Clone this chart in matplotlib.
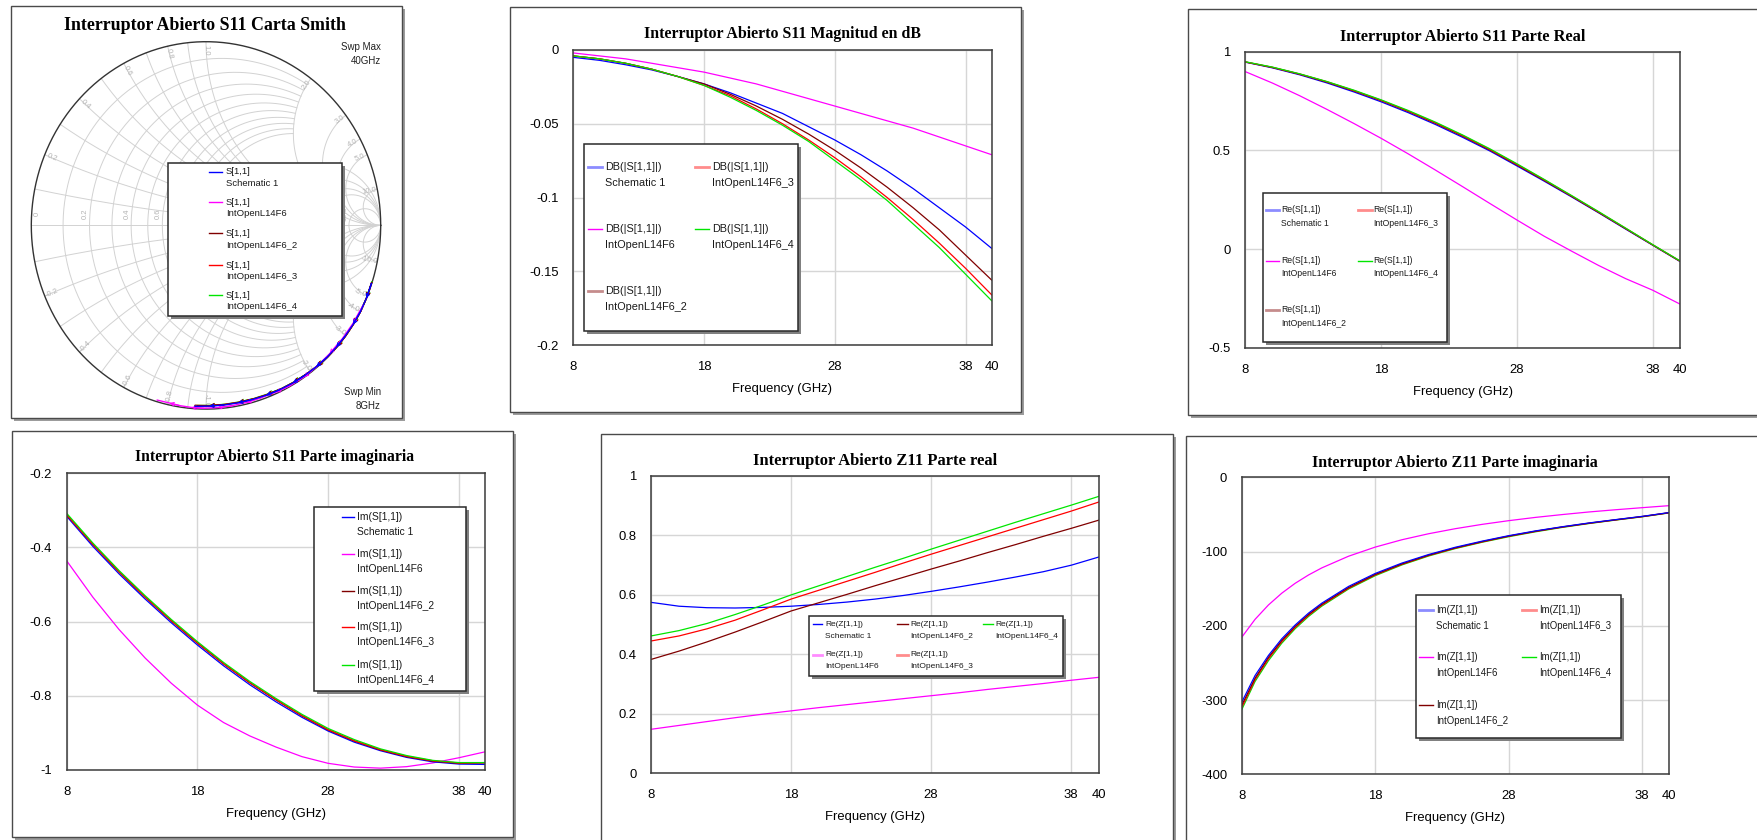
import matplotlib
matplotlib.use("Agg")
import numpy as np
import matplotlib.pyplot as plt
from matplotlib.patches import Rectangle
from matplotlib.lines import Line2D

# ---------------------------------------------------------------- data
freq = [8, 10, 12, 14, 16, 18, 20, 22, 24, 26, 28, 30, 32, 34, 36, 38, 40]
freq_z = [8, 9, 10, 11, 12, 13, 14, 16, 18, 20, 22, 24, 26, 28, 30, 32, 34, 36, 38, 40]

series_names = ["Schematic 1", "IntOpenL14F6", "IntOpenL14F6_2",
                "IntOpenL14F6_3", "IntOpenL14F6_4"]
series_colors = ["#0000ff", "#ff00ff", "#800000", "#ff0000", "#00e600"]

freq_ticks = [8, 18, 28, 38, 40]
freq_tick_labels = ["8", "18", "28", "38", "40"]

# |S11| in dB
db_sch = [-0.005, -0.007, -0.010, -0.0135, -0.018, -0.023, -0.029, -0.036, -0.043,
          -0.052, -0.061, -0.071, -0.082, -0.094, -0.107, -0.120, -0.1345]
db_l14 = [-0.002, -0.004, -0.006, -0.009, -0.012, -0.015, -0.019, -0.023, -0.028,
          -0.033, -0.038, -0.043, -0.048, -0.053, -0.059, -0.065, -0.071]
db_l14_2 = [-0.004, -0.006, -0.009, -0.013, -0.018, -0.023, -0.030, -0.038, -0.047,
            -0.057, -0.068, -0.080, -0.093, -0.107, -0.122, -0.139, -0.156]
db_l14_3 = [-0.004, -0.006, -0.009, -0.013, -0.018, -0.024, -0.031, -0.040, -0.050,
            -0.061, -0.073, -0.086, -0.100, -0.115, -0.131, -0.148, -0.166]
db_l14_4 = [-0.004, -0.006, -0.009, -0.013, -0.018, -0.024, -0.032, -0.041, -0.051,
            -0.062, -0.075, -0.088, -0.102, -0.118, -0.134, -0.152, -0.170]

# Re(S11)
re_sch = [0.947, 0.918, 0.883, 0.842, 0.796, 0.746, 0.691, 0.631, 0.566,
          0.497, 0.421, 0.344, 0.265, 0.184, 0.101, 0.019, -0.063]
re_l14 = [0.899, 0.841, 0.777, 0.708, 0.636, 0.561, 0.482, 0.400, 0.316,
          0.231, 0.147, 0.065, -0.010, -0.083, -0.150, -0.209, -0.279]
re_l14_2 = [0.948, 0.920, 0.886, 0.846, 0.801, 0.752, 0.697, 0.637, 0.572,
            0.502, 0.426, 0.348, 0.268, 0.186, 0.103, 0.020, -0.062]
re_l14_3 = [0.948, 0.921, 0.887, 0.848, 0.803, 0.754, 0.699, 0.640, 0.575,
            0.505, 0.429, 0.351, 0.270, 0.188, 0.105, 0.021, -0.061]
re_l14_4 = [0.949, 0.922, 0.888, 0.849, 0.805, 0.756, 0.702, 0.643, 0.578,
            0.508, 0.432, 0.353, 0.272, 0.190, 0.106, 0.022, -0.060]

# Im(S11)
im_sch = [-0.316, -0.397, -0.471, -0.539, -0.603, -0.663, -0.719, -0.770, -0.816,
          -0.858, -0.895, -0.925, -0.948, -0.966, -0.978, -0.984, -0.985]
im_l14 = [-0.436, -0.534, -0.621, -0.698, -0.766, -0.825, -0.872, -0.908, -0.938,
          -0.964, -0.982, -0.992, -0.995, -0.991, -0.981, -0.967, -0.951]
im_l14_2 = [-0.312, -0.392, -0.466, -0.534, -0.598, -0.658, -0.714, -0.765, -0.811,
            -0.854, -0.892, -0.922, -0.946, -0.964, -0.976, -0.982, -0.981]
im_l14_3 = [-0.312, -0.391, -0.465, -0.533, -0.597, -0.657, -0.713, -0.764, -0.810,
            -0.853, -0.891, -0.921, -0.945, -0.963, -0.975, -0.981, -0.980]
im_l14_4 = [-0.308, -0.388, -0.462, -0.530, -0.594, -0.654, -0.710, -0.761, -0.807,
            -0.850, -0.888, -0.918, -0.943, -0.961, -0.974, -0.980, -0.980]

# Re(Z11)
rz_sch = [0.575, 0.562, 0.557, 0.556, 0.558, 0.562, 0.568, 0.576, 0.586,
          0.598, 0.612, 0.627, 0.643, 0.660, 0.678, 0.700, 0.728]
rz_l14 = [0.148, 0.161, 0.174, 0.187, 0.199, 0.210, 0.221, 0.231, 0.241,
          0.251, 0.261, 0.271, 0.282, 0.292, 0.302, 0.313, 0.323]
rz_l14_2 = [0.383, 0.411, 0.442, 0.475, 0.510, 0.546, 0.574, 0.602, 0.631,
            0.659, 0.687, 0.714, 0.742, 0.769, 0.797, 0.824, 0.852]
rz_l14_3 = [0.445, 0.462, 0.486, 0.515, 0.550, 0.586, 0.616, 0.646, 0.676,
            0.707, 0.737, 0.766, 0.795, 0.824, 0.853, 0.882, 0.913]
rz_l14_4 = [0.462, 0.480, 0.504, 0.534, 0.566, 0.600, 0.631, 0.662, 0.693,
            0.723, 0.754, 0.784, 0.814, 0.844, 0.873, 0.902, 0.932]

# Im(Z11), sampled on freq_z
xz_sch = [-303, -267, -240, -217.5, -199, -183, -169.5, -147, -129.5, -115.5,
          -104, -94.2, -86, -78.6, -72.2, -66.6, -61.5, -57, -52.6, -47.5]
xz_l14 = [-215.5, -191.3, -172.0, -156.1, -142.8, -131.6, -122.0, -106.3, -94.0, -84.1,
          -76.0, -69.2, -63.4, -58.4, -54.0, -50.2, -46.7, -43.7, -40.9, -38.2]
xz_l14_2 = [-307, -270.5, -242.5, -219.8, -200.8, -184.8, -171, -148.5, -130.8, -116.6,
            -104.8, -95, -86.6, -79.1, -72.6, -66.9, -61.8, -57.2, -52.8, -47.7]
xz_l14_3 = [-310, -272.5, -244.5, -221.5, -202.3, -186, -172.2, -149.5, -131.5, -117.2,
            -105.3, -95.4, -87, -79.4, -72.9, -67.1, -62, -57.4, -53.0, -47.8]
xz_l14_4 = [-313, -275, -247, -223.5, -204, -187.5, -173.5, -150.5, -132.5, -118,
            -106, -96, -87.5, -80, -73.4, -67.5, -62.3, -57.6, -53.2, -48.0]

db_all = [db_sch, db_l14, db_l14_2, db_l14_3, db_l14_4]
re_all = [re_sch, re_l14, re_l14_2, re_l14_3, re_l14_4]
im_all = [im_sch, im_l14, im_l14_2, im_l14_3, im_l14_4]
rz_all = [rz_sch, rz_l14, rz_l14_2, rz_l14_3, rz_l14_4]
xz_all = [xz_sch, xz_l14, xz_l14_2, xz_l14_3, xz_l14_4]

# Smith grid labels
reactance_labels = [0.2, 0.4, 0.6, 0.8, 1.0, 2.0, 3.0, 4.0, 5.0, 10.0]
resistance_labels = [0.0, 0.2, 0.4, 0.6, 10.0]

# ---------------------------------------------------------------- figure
W, H = 1758, 840
plt.rcParams["font.family"] = ["Liberation Sans", "DejaVu Sans"]
fig = plt.figure(figsize=(W / 100, H / 100), dpi=100)
fig.patch.set_facecolor("white")

SERIF = ["Liberation Serif", "DejaVu Serif"]
TICK_FS = 9.4


def fx(x):
    return x / W


def fy(y):
    return 1 - y / H


def axes_px(x0, y0, x1, y1):
    return fig.add_axes([fx(x0), fy(y1), (x1 - x0) / W, (y1 - y0) / H])


def window(x0, y0, x1, y1):
    """Graph window: white pane with a thin border and a grey drop shadow."""
    fig.add_artist(Rectangle((fx(x0 + 3), fy(y1 + 3)), (x1 - x0) / W, (y1 - y0) / H,
                             transform=fig.transFigure, facecolor="#9c9c9c",
                             edgecolor="none", zorder=-10))
    fig.add_artist(Rectangle((fx(x0), fy(y1)), (x1 - x0) / W, (y1 - y0) / H,
                             transform=fig.transFigure, facecolor="white",
                             edgecolor="#4a4a4a", lw=1.0, zorder=-9))


def title(cx, cy, text, fs):
    fig.text(fx(cx), fy(cy), text, ha="center", va="center", family=SERIF,
             fontweight="bold", fontsize=fs, color="black")


def legend_box(box, cols, rows, items, head, fs, dy, faded=()):
    x0, y0, x1, y1 = box
    fig.add_artist(Rectangle((fx(x0 + 3), fy(y1 + 3)), (x1 - x0) / W, (y1 - y0) / H,
                             transform=fig.transFigure, facecolor="#808080",
                             edgecolor="none", zorder=8))
    fig.add_artist(Rectangle((fx(x0), fy(y1)), (x1 - x0) / W, (y1 - y0) / H,
                             transform=fig.transFigure, facecolor="white",
                             edgecolor="#2a2a2a", lw=1.1, zorder=9))
    for ci, ri, si in items:
        lx0, lx1, tx = cols[ci]
        ry = rows[ri]
        if si in faded:
            fig.add_artist(Line2D([fx(lx0), fx(lx1)], [fy(ry), fy(ry)],
                                  transform=fig.transFigure, color=series_colors[si],
                                  lw=2.0, alpha=0.45, zorder=10))
        else:
            fig.add_artist(Line2D([fx(lx0), fx(lx1)], [fy(ry), fy(ry)],
                                  transform=fig.transFigure, color=series_colors[si],
                                  lw=1.0, zorder=10))
        fig.text(fx(tx), fy(ry), head, ha="left", va="center", fontsize=fs,
                 color="#1a1a1a", zorder=11)
        fig.text(fx(tx), fy(ry + dy), series_names[si], ha="left", va="center",
                 fontsize=fs, color="#1a1a1a", zorder=11)


def rect_plot(box, ylim, yticks, yticklabels):
    ax = axes_px(*box)
    ax.set_xlim(8, 40)
    ax.set_ylim(*ylim)
    ax.set_xticks(freq_ticks)
    ax.set_xticklabels(freq_tick_labels)
    ax.set_yticks(yticks)
    ax.set_yticklabels(yticklabels)
    ax.grid(True, color="#d6d6d6", lw=1.0)
    ax.set_axisbelow(True)
    for s in ax.spines.values():
        s.set_color("#3c3c3c")
        s.set_linewidth(1.1)
    ax.tick_params(axis="both", length=0, labelsize=TICK_FS, colors="black")
    ax.tick_params(axis="x", pad=11.5)
    ax.tick_params(axis="y", pad=10.5)
    hpx = box[3] - box[1]
    ax.set_xlabel("Frequency (GHz)", fontsize=TICK_FS)
    ax.xaxis.label.set_va("center")
    ax.xaxis.set_label_coords(0.5, -44 / hpx)
    return ax


# ---------------------------------------------------------------- windows
window(11, 6, 402, 418)
window(510, 7, 1021, 412)
window(1188, 9, 1775, 415)
window(12, 431, 513, 837)
window(601, 434, 1173, 850)
window(1186, 436, 1775, 850)

# ---------------------------------------------------------------- Smith chart
cx, cy, rx, ry = 206.0, 225.4, 174.7, 183.7
axs = axes_px(cx - rx, cy - ry, cx + rx, cy + ry)
axs.set_xlim(-1, 1)
axs.set_ylim(-1, 1)
axs.axis("off")


def gam(z):
    return (z - 1) / (z + 1)


gkw = dict(color="#d2d2d2", lw=0.7, zorder=1)
fine_vals = [0.1, 0.2, 0.3, 0.4, 0.5, 0.6, 0.7, 0.8, 0.9, 1.0]
coarse_vals = [2.0, 3.0, 4.0, 5.0, 10.0]
for r in fine_vals:
    g = gam(r + 1j * np.linspace(-2, 2, 400))
    axs.plot(g.real, g.imag, **gkw)
t = np.linspace(0, 2 * np.pi, 500)
for r in coarse_vals:
    c, rad = r / (1 + r), 1 / (1 + r)
    axs.plot(c + rad * np.cos(t), rad * np.sin(t), **gkw)
for xv in fine_vals:
    for sgn in (1, -1):
        g = gam(np.linspace(0, 2, 400) + 1j * sgn * xv)
        axs.plot(g.real, g.imag, **gkw)
rr = np.concatenate([[0.0], np.geomspace(1e-3, 1e4, 600)])
for xv in coarse_vals:
    for sgn in (1, -1):
        g = gam(rr + 1j * sgn * xv)
        axs.plot(g.real, g.imag, **gkw)
axs.plot([-1, 1], [0, 0], **gkw)
axs.plot(np.cos(t), np.sin(t), color="#333333", lw=1.0, zorder=2, clip_on=False)

lab_kw = dict(fontsize=5.5, color="#b4b4b4", ha="center", va="center", zorder=1.5)
for xv in reactance_labels:
    for sgn in (1, -1):
        g = gam(1j * sgn * xv)
        th = np.degrees(np.angle(g))
        rot = ((th + 90) % 180) - 90
        p = 0.955 * g
        txt = ("%.1f" % xv) if sgn > 0 else ("-%.1f" % xv)
        axs.text(p.real, p.imag, txt, rotation=rot, **lab_kw)
for rv in resistance_labels:
    gx = gam(rv).real
    txt = "0" if rv == 0 else "%.1f" % rv
    axs.text(gx - 0.025 if rv > 0 else -0.965, 0.065, txt, rotation=90, **lab_kw)

# traces drawn back to front so that Schematic 1 ends up on top
for si in [4, 3, 2, 1, 0]:
    re_v, im_v = re_all[si], im_all[si]
    col = series_colors[si]
    axs.plot(re_v, im_v, color=col, lw=1.0, zorder=3, clip_on=False)
    for k in range(1, len(re_v), 2):
        axs.annotate("", xy=(re_v[k], im_v[k]), xytext=(re_v[k - 1], im_v[k - 1]),
                     arrowprops=dict(arrowstyle="->", color=col, lw=0.8,
                                     mutation_scale=6, shrinkA=0, shrinkB=0),
                     zorder=3, annotation_clip=False)

title(205, 25, "Interruptor Abierto S11 Carta Smith", 12.9)
for (yy, txt) in [(46.7, "Swp Max"), (61, "40GHz"), (391.7, "Swp Min"), (406, "8GHz")]:
    fig.text(fx(380.7), fy(yy), txt, ha="right", va="center", fontsize=7, color="#222222")
legend_box((168.3, 162.7, 342.3, 316), [(209, 222, 225.7)],
           [171.7, 202.3, 233.3, 265, 295],
           [(0, 0, 0), (0, 1, 1), (0, 2, 2), (0, 3, 3), (0, 4, 4)],
           "S[1,1]", 6.8, 11.7)

# ---------------------------------------------------------------- |S11| dB
ax2 = rect_plot((573.3, 50, 991.7, 345), (-0.2, 0),
                [0, -0.05, -0.1, -0.15, -0.2], ["0", "-0.05", "-0.1", "-0.15", "-0.2"])
for si in range(5):
    ax2.plot(freq, db_all[si], color=series_colors[si], lw=0.9)
title(782.5, 34.3, "Interruptor Abierto S11 Magnitud en dB", 11.4)
legend_box((584.3, 144.3, 798.3, 330.7),
           [(587.7, 602.3, 605), (695, 709, 711.7)], [166.7, 229, 291],
           [(0, 0, 0), (0, 1, 1), (0, 2, 2), (1, 0, 3), (1, 1, 4)],
           "DB(|S[1,1]|)", 7.8, 16, faded=(0, 2, 3))

# ---------------------------------------------------------------- Re(S11)
ax3 = rect_plot((1245.3, 51.7, 1680, 347.7), (-0.5, 1),
                [1, 0.5, 0, -0.5], ["1", "0.5", "0", "-0.5"])
for si in [1, 0, 2, 3, 4]:
    ax3.plot(freq, re_all[si], color=series_colors[si], lw=0.9)
title(1462.7, 36.7, "Interruptor Abierto S11 Parte Real", 11.75)
legend_box((1262.7, 192.7, 1447.3, 341.7),
           [(1266, 1278.7, 1281), (1357.7, 1371.7, 1373.3)], [210, 260.7, 310],
           [(0, 0, 0), (0, 1, 1), (0, 2, 2), (1, 0, 3), (1, 1, 4)],
           "Re(S[1,1])", 6.2, 13.3, faded=(0, 2, 3))

# ---------------------------------------------------------------- Im(S11)
ax4 = rect_plot((66.7, 473.3, 485, 770), (-1, -0.2),
                [-0.2, -0.4, -0.6, -0.8, -1], ["-0.2", "-0.4", "-0.6", "-0.8", "-1"])
for si in [1, 0, 2, 3, 4]:
    ax4.plot(freq, im_all[si], color=series_colors[si], lw=0.9)
title(275, 457.3, "Interruptor Abierto S11 Parte imaginaria", 11.3)
legend_box((314, 506.7, 465.7, 690.7), [(341.7, 354, 356.7)],
           [516.7, 554.3, 590.7, 627.3, 665],
           [(0, 0, 0), (0, 1, 1), (0, 2, 2), (0, 3, 3), (0, 4, 4)],
           "Im(S[1,1])", 7.4, 15)

# ---------------------------------------------------------------- Re(Z11)
ax5 = rect_plot((651, 476, 1099.3, 773.3), (0, 1),
                [1, 0.8, 0.6, 0.4, 0.2, 0], ["1", "0.8", "0.6", "0.4", "0.2", "0"])
for si in range(5):
    ax5.plot(freq, rz_all[si], color=series_colors[si], lw=0.9)
title(875.2, 461, "Interruptor Abierto Z11 Parte real", 11.9)
legend_box((809.3, 615.7, 1063.3, 675.7),
           [(812.7, 822.3, 825), (897.3, 908.3, 910), (982.7, 993.3, 995.7)],
           [624.3, 655],
           [(0, 0, 0), (0, 1, 1), (1, 0, 2), (1, 1, 3), (2, 0, 4)],
           "Re(Z[1,1])", 6, 11.7, faded=(1, 3))

# ---------------------------------------------------------------- Im(Z11)
ax6 = rect_plot((1241.7, 477.3, 1669, 774.3), (-400, 0),
                [0, -100, -200, -300, -400], ["0", "-100", "-200", "-300", "-400"])
for si in [1, 4, 3, 2, 0]:
    ax6.plot(freq_z, xz_all[si], color=series_colors[si], lw=0.9)
title(1455.3, 462.7, "Interruptor Abierto Z11 Parte imaginaria", 11.5)
legend_box((1415.7, 595, 1621, 738.3),
           [(1419.3, 1433.3, 1436), (1521.7, 1536, 1539)], [610, 657.3, 705],
           [(0, 0, 0), (0, 1, 1), (0, 2, 2), (1, 0, 3), (1, 1, 4)],
           "Im(Z[1,1])", 6.9, 15.7, faded=(0, 3))

fig.savefig("out.png", dpi=100, facecolor="white")
